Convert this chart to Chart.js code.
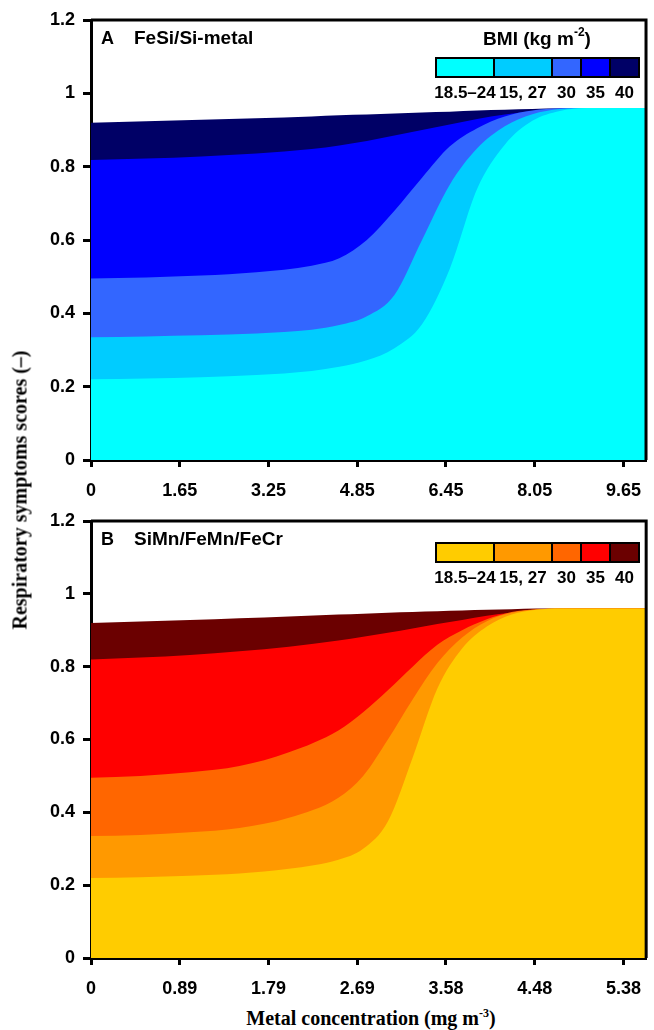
<!DOCTYPE html>
<html>
<head>
<meta charset="utf-8">
<title>Respiratory symptoms vs metal concentration</title>
<script src="https://cdn.jsdelivr.net/npm/chart.js@4.4.0/dist/chart.umd.min.js"></script>
<style>
    body { margin: 0; background: #fff; width: 654px; height: 1030px; position: relative; overflow: hidden; }
    canvas { position: absolute; left: 0; }
    #chartA { top: 0; }
    #chartB { top: 500px; }
    .axis-title {
        position: absolute;
        font-family: "Liberation Serif", "Times New Roman", serif;
        font-weight: bold;
        font-size: 20px;
        white-space: nowrap;
        color: #000;
        transform: translate(-50%, -50%);
    }
    .axis-title sup { font-size: 12px; }
    #yTitle { left: 20px; top: 490px; transform: translate(-50%, -50%) rotate(-90deg); }
    #xTitle { left: 371px; top: 1018px; }
</style>
</head>
<body>

<canvas id="chartA" width="654" height="505"></canvas>
<canvas id="chartB" width="654" height="500"></canvas>
<div class="axis-title" id="yTitle">Respiratory symptoms scores (–)</div>
<div class="axis-title" id="xTitle">Metal concentration (mg m<sup>-3</sup>)</div>

<script>
// =============================================
// DATA
// =============================================

// Y axis (shared)
const yTickValues = [0, 0.2, 0.4, 0.6, 0.8, 1, 1.2];
const yTickLabels = ["0", "0.2", "0.4", "0.6", "0.8", "1", "1.2"];

// BMI legend
const bmiLabels = ["18.5–24", "15, 27", "30", "35", "40"];

// Panel A - FeSi/Si-metal (mg m-3)
const xLabelsA = ["0", "1.65", "3.25", "4.85", "6.45", "8.05", "9.65"];
const concA = [0, 1, 2, 3, 4, 4.5, 5, 5.5, 6, 6.5, 7, 7.5, 8, 8.5, 9, 9.5, 10.06];
const bmi1824A = [0.22, 0.222, 0.226, 0.232, 0.243, 0.254, 0.272, 0.305, 0.37, 0.52, 0.74, 0.86, 0.925, 0.952, 0.96, 0.96, 0.96];
const bmi1527A = [0.335, 0.337, 0.34, 0.345, 0.355, 0.368, 0.392, 0.45, 0.6, 0.75, 0.85, 0.91, 0.943, 0.957, 0.96, 0.96, 0.96];
const bmi30A   = [0.495, 0.498, 0.503, 0.512, 0.53, 0.55, 0.6, 0.68, 0.77, 0.855, 0.905, 0.937, 0.953, 0.959, 0.96, 0.96, 0.96];
const bmi35A   = [0.818, 0.822, 0.828, 0.836, 0.848, 0.858, 0.87, 0.885, 0.9, 0.915, 0.93, 0.942, 0.952, 0.958, 0.96, 0.96, 0.96];
const bmi40A   = [0.92, 0.924, 0.928, 0.932, 0.937, 0.94, 0.942, 0.945, 0.948, 0.95, 0.953, 0.955, 0.957, 0.959, 0.96, 0.96, 0.96];

// Panel B - SiMn/FeMn/FeCr (mg m-3)
const xLabelsB = ["0", "0.89", "1.79", "2.69", "3.58", "4.48", "5.38"];
const concB = [0, 0.5, 1, 1.5, 2, 2.5, 2.75, 3, 3.25, 3.5, 3.75, 4, 4.25, 4.5, 4.75, 5, 5.61];
const bmi1824B = [0.22, 0.222, 0.226, 0.232, 0.245, 0.27, 0.3, 0.375, 0.55, 0.74, 0.85, 0.91, 0.943, 0.956, 0.96, 0.96, 0.96];
const bmi1527B = [0.335, 0.338, 0.345, 0.357, 0.385, 0.44, 0.5, 0.6, 0.71, 0.81, 0.88, 0.925, 0.948, 0.957, 0.96, 0.96, 0.96];
const bmi30B   = [0.495, 0.5, 0.51, 0.527, 0.565, 0.625, 0.675, 0.735, 0.8, 0.86, 0.9, 0.93, 0.95, 0.958, 0.96, 0.96, 0.96];
const bmi35B   = [0.82, 0.825, 0.832, 0.842, 0.855, 0.872, 0.882, 0.893, 0.905, 0.917, 0.928, 0.94, 0.948, 0.955, 0.959, 0.96, 0.96];
const bmi40B   = [0.92, 0.924, 0.928, 0.933, 0.938, 0.943, 0.945, 0.948, 0.95, 0.952, 0.954, 0.956, 0.958, 0.96, 0.96, 0.96, 0.96];

// =============================================
// COLOURS
// =============================================

const blues   = ["#00FFFF", "#00CCFF", "#3366FF", "#0000FF", "#000066"];
const oranges = ["#FFCC00", "#FF9900", "#FF6600", "#FF0000", "#6B0000"];

const FONT = "'Liberation Sans', Arial, sans-serif";

// =============================================
// PLUGIN: frame, panel label and BMI key
// =============================================

const panelPlugin = {
    id: "panel",
    afterDraw(chart, args, opts) {
        const { ctx, chartArea: a } = chart;
        ctx.save();

        // top + right frame
        ctx.strokeStyle = "#000";
        ctx.lineWidth = 3;
        ctx.beginPath();
        ctx.moveTo(a.left, a.top);
        ctx.lineTo(a.right, a.top);
        ctx.lineTo(a.right, a.bottom);
        ctx.stroke();

        // panel label
        ctx.fillStyle = "#000";
        ctx.font = `bold 18px ${FONT}`;
        ctx.textBaseline = "middle";
        ctx.textAlign = "left";
        ctx.fillText(opts.letter, 101, a.top + 19);
        ctx.font = `bold 19px ${FONT}`;
        ctx.fillText(opts.name, 134, a.top + 19);

        // BMI title (only in panel A)
        if (opts.showTitle) {
            const ty = a.top + 20;
            const main = "BMI (kg m";
            ctx.font = `bold 19px ${FONT}`;
            const w1 = ctx.measureText(main).width;
            ctx.font = `bold 12px ${FONT}`;
            const w2 = ctx.measureText("-2").width;
            ctx.font = `bold 19px ${FONT}`;
            const w3 = ctx.measureText(")").width;
            let x = 537 - (w1 + w2 + w3) / 2;
            ctx.fillText(main, x, ty);
            x += w1;
            ctx.font = `bold 12px ${FONT}`;
            ctx.fillText("-2", x, ty - 7);
            x += w2;
            ctx.font = `bold 19px ${FONT}`;
            ctx.fillText(")", x, ty);
        }

        // colour key
        const edges = [436, 494, 552, 581, 610, 639];
        const boxTop = a.top + opts.keyTop;
        const boxH = 19;
        for (let i = 0; i < opts.colors.length; i++) {
            ctx.fillStyle = opts.colors[i];
            ctx.fillRect(edges[i], boxTop, edges[i + 1] - edges[i], boxH);
        }
        ctx.strokeStyle = "#000";
        ctx.lineWidth = 2;
        ctx.strokeRect(edges[0], boxTop, edges[edges.length - 1] - edges[0], boxH);
        ctx.beginPath();
        for (let i = 1; i < edges.length - 1; i++) {
            ctx.moveTo(edges[i], boxTop);
            ctx.lineTo(edges[i], boxTop + boxH);
        }
        ctx.stroke();

        ctx.fillStyle = "#000";
        ctx.font = `bold 17px ${FONT}`;
        ctx.textAlign = "center";
        bmiLabels.forEach((lab, i) => {
            ctx.fillText(lab, (edges[i] + edges[i + 1]) / 2, boxTop + boxH + 16);
        });

        ctx.restore();
    }
};

// =============================================
// BUILD ONE PANEL
// =============================================

function buildPanel(canvasId, conc, bands, colors, xLabels, xMax, tickMax, panelOpts, xAxisHeight) {

    const ctx = document.getElementById(canvasId);

    // bottom band first so it is drawn last (on top)
    const datasets = bands.map((vals, i) => ({
        data: vals.map((v, j) => ({ x: conc[j], y: v })),
        backgroundColor: colors[i],
        borderWidth: 0,
        pointRadius: 0,
        fill: "origin",
        cubicInterpolationMode: "monotone"
    }));

    return new Chart(ctx, {
        type: "line",
        data: { datasets: datasets },
        plugins: [panelPlugin],
        options: {
            responsive: false,
            animation: false,
            devicePixelRatio: 1,
            layout: { padding: { top: panelOpts.padTop, right: 2, left: 0, bottom: 0 } },
            plugins: {
                legend: { display: false },
                tooltip: { enabled: false },
                panel: panelOpts
            },
            scales: {
                x: {
                    type: "linear",
                    min: 0,
                    max: xMax,
                    afterFit: s => { s.height = xAxisHeight; },
                    afterBuildTicks: s => {
                        s.ticks = xLabels.map((l, i) => ({ value: i * tickMax / (xLabels.length - 1) }));
                    },
                    ticks: {
                        autoSkip: false,
                        maxRotation: 0,
                        padding: 13,
                        color: "#000",
                        font: { family: FONT, size: 18, weight: "bold" },
                        callback: (v, i) => xLabels[i]
                    },
                    grid: { drawOnChartArea: false, drawTicks: true, tickLength: 7, tickWidth: 3, tickColor: "#000" },
                    border: { display: true, color: "#000", width: 3 }
                },
                y: {
                    min: 0,
                    max: 1.2,
                    afterFit: s => { s.width = 91; },
                    afterBuildTicks: s => {
                        s.ticks = yTickValues.map(v => ({ value: v }));
                    },
                    ticks: {
                        padding: 8,
                        color: "#000",
                        font: { family: FONT, size: 18, weight: "bold" },
                        callback: (v, i) => yTickLabels[i]
                    },
                    grid: { drawOnChartArea: false, drawTicks: true, tickLength: 8, tickWidth: 3, tickColor: "#000" },
                    border: { display: true, color: "#000", width: 3 }
                }
            }
        }
    });
}

// =============================================
// DRAW BOTH PANELS
// =============================================

buildPanel(
    "chartA", concA,
    [bmi1824A, bmi1527A, bmi30A, bmi35A, bmi40A],
    blues, xLabelsA, 10.06, 9.65,
    { letter: "A", name: "FeSi/Si-metal", showTitle: true, keyTop: 38, colors: blues, padTop: 20 },
    45
);

buildPanel(
    "chartB", concB,
    [bmi1824B, bmi1527B, bmi30B, bmi35B, bmi40B],
    oranges, xLabelsB, 5.61, 5.38,
    { letter: "B", name: "SiMn/FeMn/FeCr", showTitle: false, keyTop: 22, colors: oranges, padTop: 21 },
    42
);
</script>
</body>
</html>
